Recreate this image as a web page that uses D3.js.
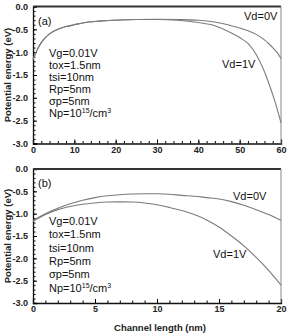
<!doctype html>
<html lang="en">
<head>
  <meta charset="utf-8">
  <style>
    body { margin: 0; background: #fff; }
    svg text { font-family: "Liberation Sans", Arial, sans-serif; }
    .tick text { font-weight: bold; font-size: 9px; fill: #222; }
  </style>
</head>
<body>
  <script src="https://d3js.org/d3.v7.min.js"></script>
  <div id="chart"></div>
  <script>
    // panel (a): channel 0-60 nm
    var xA = [0, 1, 2, 3, 4, 6, 8, 10, 12, 16, 20, 25, 30, 35, 40, 44, 48, 50, 52, 54, 56, 57, 58, 59, 60];
    var vd0A = [-1.16, -0.95, -0.79, -0.68, -0.60, -0.50, -0.44, -0.40, -0.36, -0.32, -0.30, -0.285, -0.28, -0.285, -0.30, -0.34, -0.42, -0.47, -0.53, -0.61, -0.73, -0.81, -0.90, -1.0, -1.14];
    var vd1A = [-1.16, -0.95, -0.79, -0.68, -0.60, -0.50, -0.44, -0.40, -0.36, -0.32, -0.30, -0.285, -0.285, -0.30, -0.35, -0.42, -0.58, -0.68, -0.81, -1.05, -1.43, -1.67, -1.93, -2.22, -2.55];

    // panel (b): channel 0-20 nm
    var xB = [0, 1, 2, 3, 4, 5, 6, 7, 8, 9, 10, 11, 12, 13, 14, 15, 16, 17, 18, 19, 20];
    var vd0B = [-1.15, -1.0, -0.88, -0.78, -0.70, -0.64, -0.60, -0.575, -0.56, -0.555, -0.555, -0.565, -0.59, -0.61, -0.64, -0.67, -0.73, -0.81, -0.91, -1.02, -1.15];
    var vd1B = [-1.17, -1.02, -0.91, -0.84, -0.79, -0.76, -0.74, -0.735, -0.74, -0.76, -0.80, -0.86, -0.93, -1.02, -1.14, -1.30, -1.50, -1.72, -1.98, -2.27, -2.6];

    var yTicks = [0, -0.5, -1.0, -1.5, -2.0, -2.5, -3.0];
    var paramLines = ["Vg=0.01V", "tox=1.5nm", "tsi=10nm", "Rp=5nm", "\u03c3p=5nm", "Np=10^15/cm^3"];

    var W = 289, H = 334;
    var svg = d3.select("#chart").append("svg")
        .attr("width", W).attr("height", H);

    function panel(opt) {
      var x = d3.scaleLinear().domain([0, opt.xmax]).range([33, 281]);
      var y = d3.scaleLinear().domain([-3, 0]).range([opt.bottom, opt.top]);
      var g = svg.append("g");

      // minor ticks
      g.append("g").attr("transform", "translate(0," + opt.bottom + ")")
        .call(d3.axisBottom(x).tickValues(d3.range(0, opt.xmax + 0.01, opt.xminor)).tickSize(-2.5).tickFormat(""))
        .call(s => s.select(".domain").remove());
      g.append("g").attr("transform", "translate(33,0)")
        .call(d3.axisLeft(y).tickValues(d3.range(-3, 0.01, 0.1)).tickSize(-2.5).tickFormat(""))
        .call(s => s.select(".domain").remove());

      // major ticks + labels
      g.append("g").attr("transform", "translate(0," + opt.bottom + ")")
        .call(d3.axisBottom(x).tickValues(d3.range(0, opt.xmax + 0.01, opt.xmajor)).tickSize(-4).tickPadding(3).tickFormat(d3.format("d")))
        .call(s => s.select(".domain").attr("stroke", "#111").attr("stroke-width", 1.3));
      g.append("g").attr("transform", "translate(33,0)")
        .call(d3.axisLeft(y).tickValues(yTicks).tickSize(-4).tickPadding(5).tickFormat(d => d.toFixed(1)))
        .call(s => s.select(".domain").attr("stroke", "#111").attr("stroke-width", 1.3));

      // frame
      g.append("line").attr("x1", x(0)).attr("x2", x(opt.xmax)).attr("y1", y(0)).attr("y2", y(0))
        .attr("stroke", "#333").attr("stroke-width", 2);
      g.append("line").attr("x1", x(opt.xmax)).attr("x2", x(opt.xmax)).attr("y1", y(0)).attr("y2", y(-3))
        .attr("stroke", "#888").attr("stroke-width", 1);

      var line = d3.line().x(d => x(d[0])).y(d => y(d[1])).curve(d3.curveMonotoneX);
      [opt.v0, opt.v1].forEach(function(vals) {
        g.append("path").datum(opt.xs.map((v, i) => [v, vals[i]]))
          .attr("d", line).attr("fill", "none")
          .attr("stroke", "#7a7a7a").attr("stroke-width", 1.1);
      });

      g.append("text").attr("x", 38).attr("y", opt.top + 18).attr("font-size", 11).attr("fill", "#111").text(opt.tag);
      g.append("text").attr("x", opt.lab0[0]).attr("y", opt.lab0[1]).attr("font-size", 11).attr("fill", "#111").text("Vd=0V");
      g.append("text").attr("x", opt.lab1[0]).attr("y", opt.lab1[1]).attr("font-size", 11).attr("fill", "#111").text("Vd=1V");

      var t = g.append("text").attr("font-size", 11).attr("fill", "#111");
      paramLines.forEach(function(s, i) {
        var ts = t.append("tspan").attr("x", 49).attr("y", opt.p0 + i * opt.pstep);
        if (s.indexOf("^") >= 0) {
          // superscripts written as ^
          var parts = s.split("^");
          ts.text(parts[0]);
          t.append("tspan").attr("dy", -4).attr("font-size", 7).text(parts[1].slice(0, 2));
          t.append("tspan").attr("dy", 4).text(parts[1].slice(2));
          t.append("tspan").attr("dy", -4).attr("font-size", 7).text(parts[2]);
        } else {
          ts.text(s);
        }
      });

      // y label
      g.append("text")
        .attr("transform", "translate(11," + ((opt.top + opt.bottom) / 2) + ") rotate(-90)")
        .attr("text-anchor", "middle").attr("font-size", 9.5).attr("font-weight", "bold").attr("fill", "#222")
        .text("Potential energy (eV)");
    }

    panel({xmax: 60, xmajor: 10, xminor: 2, top: 6.5, bottom: 143.5, xs: xA, v0: vd0A, v1: vd1A,
           tag: "(a)", lab0: [244, 20], lab1: [222, 68], p0: 57, pstep: 12});
    panel({xmax: 20, xmajor: 5, xminor: 1, top: 169, bottom: 303, xs: xB, v0: vd0B, v1: vd1B,
           tag: "(b)", lab0: [233, 200], lab1: [213, 258], p0: 225, pstep: 13.3});

    svg.append("text").attr("x", 160).attr("y", 331).attr("text-anchor", "middle")
      .attr("font-size", 9.5).attr("font-weight", "bold").attr("fill", "#222")
      .text("Channel length (nm)");
  </script>
</body>
</html>
